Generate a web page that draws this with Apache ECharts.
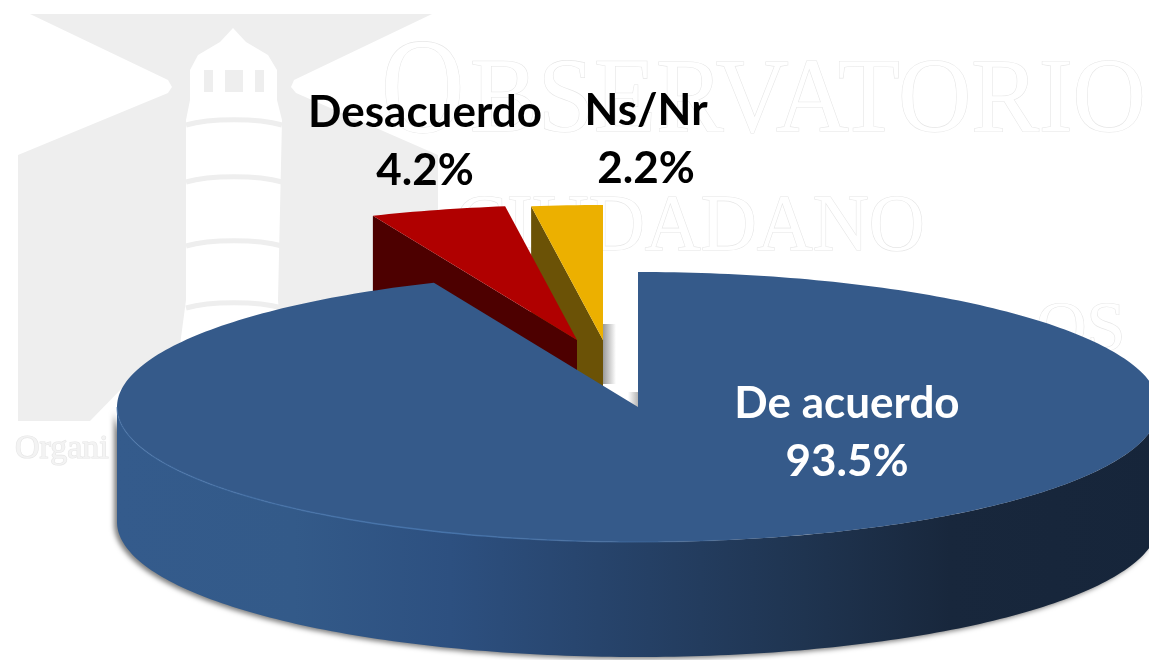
<!DOCTYPE html>
<html>
<head>
<meta charset="utf-8">
<style>html,body{margin:0;padding:0;background:#fff}#c{width:1149px;height:660px}</style>
<script src="https://cdn.jsdelivr.net/npm/echarts@6/dist/echarts.min.js"></script>
</head>
<body>
<div id="c"></div>
<script>
var categories = ['De acuerdo', 'Desacuerdo', 'Ns/Nr'];
var shares = [93.5, 4.2, 2.2];

// layout of the tilted pie
var CX = 638, CY = 407, RX = 521, RY = 135, DEPTH = 115;
var explode = [[0, 0], [-61, -67], [-35, -67]];
var labelPos = [[847, 433], [425, 142], [646, 140]];
var labelColor = ['#ffffff', '#000000', '#000000'];
var topColor = ['#355a8a', '#b00000', '#ecb000'];
var cutColor = [null, '#4d0000', '#6b5206'];
var layer = [30, 20, 10];
var RAD = Math.PI / 180;

var total = shares.reduce(function (a, b) { return a + b; }, 0);

function pt(a, ox, oy, dz) {
  return [CX + ox + RX * Math.sin(a * RAD), CY + oy - RY * Math.cos(a * RAD) + (dz || 0)];
}
function arc(a0, a1, ox, oy, dz) {
  var out = [], n = Math.max(2, Math.ceil(Math.abs(a1 - a0) / 1));
  for (var i = 0; i <= n; i++) out.push(pt(a0 + (a1 - a0) * i / n, ox, oy, dz));
  return out;
}

function renderSlice(params) {
  var i = params.dataIndex;
  var before = 0;
  for (var k = 0; k < i; k++) before += shares[k];
  var a0 = before / total * 360, a1 = (before + shares[i]) / total * 360;
  var ox = explode[i][0], oy = explode[i][1], z = layer[i];
  var apex = [CX + ox, CY + oy];
  var kids = [];

  if (cutColor[i]) {
    var p = pt(a0, ox, oy);
    kids.push({ type: 'polygon', z2: z,
      shape: { points: [apex, p, [p[0], p[1] + DEPTH], [apex[0], apex[1] + DEPTH]] },
      style: { fill: cutColor[i] } });
  }
  if (a0 < 90 && a1 > 270) {
    var front = arc(90, 270, ox, oy, 0);
    var back = arc(270, 90, ox, oy, DEPTH);
    kids.push({ type: 'polygon', z2: z,
      shape: { points: front.concat(back) },
      style: {
        fill: new echarts.graphic.LinearGradient(117, 0, 1159, 0, [
          { offset: 0, color: '#345b8c' },
          { offset: 0.17, color: '#335a89' },
          { offset: 0.32, color: '#2d5080' },
          { offset: 0.51, color: '#254065' },
          { offset: 0.66, color: '#1f3450' },
          { offset: 0.8, color: '#18273c' },
          { offset: 1, color: '#16253a' }
        ], true),
        shadowColor: 'rgba(0,0,0,0.5)', shadowBlur: 5, shadowOffsetX: -3, shadowOffsetY: 2
      } });
  }
  kids.push({ type: 'polygon', z2: z + 1,
    shape: { points: [apex].concat(arc(a0, a1, ox, oy, 0)) },
    style: { fill: topColor[i] } });
  if (i === 0) {
    kids.push({ type: 'polyline', z2: z + 2,
      shape: { points: arc(270, 170, 0, 0, 0) },
      style: { fill: null, lineWidth: 1.5, stroke: new echarts.graphic.LinearGradient(117, 0, 760, 0, [
        { offset: 0, color: 'rgba(70,115,170,0.5)' },
        { offset: 0.5, color: 'rgba(70,115,170,1)' },
        { offset: 1, color: 'rgba(70,115,170,0)' }
      ], true) } });
  }
  kids.push({ type: 'text', z2: 60,
    style: {
      x: labelPos[i][0], y: labelPos[i][1],
      text: categories[i] + '\n' + shares[i].toFixed(1) + '%',
      fill: labelColor[i], align: 'center', verticalAlign: 'middle',
      font: 'bold 44px Lato, "Open Sans", sans-serif', lineHeight: 58
    } });
  return { type: 'group', children: kids };
}

// faint watermark behind the chart
var WM = '#eeeeee';
function wmText(text, x, y, size, sx, fill) {
  return { type: 'text', x: x, y: y, scaleX: sx, silent: true,
    style: { text: text, x: 0, y: 0, font: size + 'px "Liberation Serif", serif',
      fill: fill || '#ffffff', stroke: '#e6e6e6', lineWidth: 1.2, align: 'left', verticalAlign: 'middle' } };
}
function ring(y) {
  return { type: 'bezierCurve', silent: true,
    shape: { x1: 186, y1: y + 3, x2: 282, y2: y + 3, cpx1: 210, cpy1: y - 4, cpx2: 258, cpy2: y - 4 },
    style: { fill: null, stroke: WM, lineWidth: 5 } };
}
var watermark = [
  { type: 'polygon', silent: true,
    shape: { points: [[30,14],[432,14],[294,80],[291,87],[296,93],[438,155],[438,421],[18,421],[18,155],[168,93],[172,87],[168,80]] },
    style: { fill: WM } },
  { type: 'polygon', silent: true,
    shape: { points: [[233,28],[246,42],[268,55],[277,70],[277,100],[282,120],[278,300],[282,345],[310,395],[330,421],[90,421],[125,385],[180,345],[186,300],[186,120],[190,100],[190,70],[198,55],[220,42]] },
    style: { fill: '#ffffff' } },
  { type: 'rect', silent: true, shape: { x: 204, y: 70, width: 9, height: 22 }, style: { fill: WM } },
  { type: 'rect', silent: true, shape: { x: 225, y: 70, width: 18, height: 22 }, style: { fill: WM } },
  { type: 'rect', silent: true, shape: { x: 255, y: 70, width: 9, height: 22 }, style: { fill: WM } },
  ring(122), ring(179), ring(243), ring(305),
  wmText('O', 381, 96, 136, 0.85),
  wmText('BSERVATORIO', 470, 103, 106, 0.957),
  wmText('CIUDADANO', 455, 229, 80, 0.97),
  wmText('OS', 1036, 332, 70, 1.0),
  wmText('Organi', 15, 449, 34, 1.0, '#f3f3f3'),
  { type: 'rect', silent: true, shape: { x: 603, y: 324, width: 13, height: 60 },
    style: { fill: new echarts.graphic.LinearGradient(0, 0, 1, 0, [
      { offset: 0, color: 'rgba(120,120,120,0.75)' }, { offset: 1, color: 'rgba(120,120,120,0)' }]) } },
  { type: 'rect', silent: true, shape: { x: 628, y: 392, width: 10, height: 15 },
    style: { fill: new echarts.graphic.LinearGradient(0, 0, 1, 0, [
      { offset: 0, color: 'rgba(120,120,120,0)' }, { offset: 1, color: 'rgba(120,120,120,0.55)' }]) } }
];

var chart = echarts.init(document.getElementById('c'), null, { renderer: 'canvas' });
chart.setOption({
  animation: false,
  backgroundColor: '#ffffff',
  graphic: { elements: watermark },
  series: [{
    type: 'custom',
    coordinateSystem: 'none',
    silent: true,
    clip: false,
    z: 5,
    renderItem: renderSlice,
    data: shares.map(function (v, i) { return { name: categories[i], value: [v, i] }; })
  }]
});
</script>
</body>
</html>
